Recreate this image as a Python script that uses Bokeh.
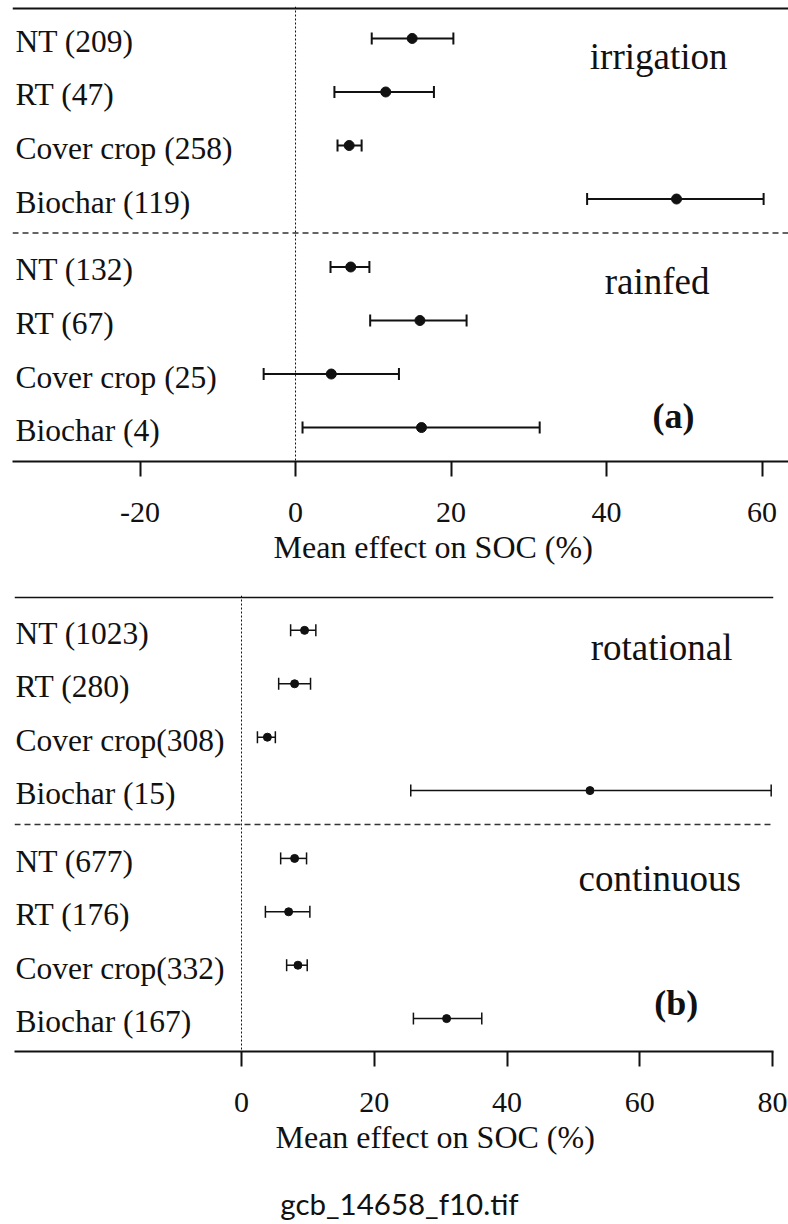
from bokeh.plotting import figure
from bokeh.models import ColumnDataSource, Whisker, TeeHead, Span, Range1d, FixedTicker, Title
from bokeh.layouts import column
from bokeh.core.properties import value
from bokeh.embed import file_html
from bokeh.resources import INLINE

# ---------------- data ----------------
a_groups = ["irrigation", "rainfed"]
a_labels_irr = ["NT (209)", "RT (47)", "Cover crop (258)", "Biochar (119)"]
a_mean_irr = [15.0, 11.6, 6.9, 49.0]
a_lo_irr = [9.8, 5.0, 5.4, 37.5]
a_hi_irr = [20.3, 17.8, 8.5, 60.2]
a_labels_rain = ["NT (132)", "RT (67)", "Cover crop (25)", "Biochar (4)"]
a_mean_rain = [7.1, 16.0, 4.6, 16.2]
a_lo_rain = [4.5, 9.6, -4.1, 0.9]
a_hi_rain = [9.5, 22.0, 13.3, 31.4]
a_ticks = [-20, 0, 20, 40, 60]

b_groups = ["rotational", "continuous"]
b_labels_rot = ["NT (1023)", "RT (280)", "Cover crop(308)", "Biochar (15)"]
b_mean_rot = [9.5, 8.0, 3.9, 52.5]
b_lo_rot = [7.4, 5.6, 2.4, 25.5]
b_hi_rot = [11.2, 10.4, 5.1, 79.8]
b_labels_cont = ["NT (677)", "RT (176)", "Cover crop(332)", "Biochar (167)"]
b_mean_cont = [8.0, 7.1, 8.5, 30.9]
b_lo_cont = [5.9, 3.6, 6.8, 25.9]
b_hi_cont = [9.8, 10.3, 9.9, 36.2]
b_ticks = [0, 20, 40, 60, 80]

xlabel = "Mean effect on SOC (%)"
filename = "gcb_14658_f10.tif"

SERIF = "Liberation Serif"
INK = "#111111"
GAP = 4.27  # row index where second group starts


def make_panel(groups, labels1, m1, l1, h1, labels2, m2, l2, h2, ticks, letter,
               xr, yr, height, top, bottom, left, right, lw, msize,
               title_dx, title_dy, letter_pos, label_offset):
    n1 = len(labels1)
    y1 = [float(i) for i in range(n1)]
    y2 = [GAP + i for i in range(len(labels2))]
    ys = y1 + y2
    src = ColumnDataSource(dict(y=ys, mean=m1 + m2, lo=l1 + l2, hi=h1 + h2,
                                lab=labels1 + labels2))

    p = figure(width=788, height=height, x_range=Range1d(*xr), y_range=Range1d(*yr),
               output_backend="svg", toolbar_location=None, y_axis_location=None,
               min_border_top=top, min_border_bottom=bottom,
               min_border_left=left, min_border_right=right)
    if "frame_align" in p.properties():
        p.frame_align = False
    p.outline_line_color = None
    p.xgrid.visible = False
    p.ygrid.visible = False
    p.background_fill_color = "white"
    p.border_fill_color = "white"

    # top line, zero line, group separator
    p.add_layout(Span(location=yr[1] + 2.0 / 53.6, dimension="width",
                      line_color=INK, line_width=lw))
    p.add_layout(Span(location=0, dimension="height", line_color=INK,
                      line_width=1, line_dash="2 2"))
    p.add_layout(Span(location=(y1[-1] + y2[0]) / 2.0, dimension="width",
                      line_color="#333333", line_width=1.5, line_dash="6 4"))

    # error bars and points
    head = dict(size=12, line_width=lw, line_color=INK)
    p.add_layout(Whisker(base="y", lower="lo", upper="hi", dimension="width",
                         source=src, line_width=lw, line_color=INK,
                         lower_head=TeeHead(**head), upper_head=TeeHead(**head)))
    p.scatter(x="mean", y="y", source=src, size=msize, color=INK)

    # category labels (left aligned inside the frame)
    p.text(x=[xr[0]] * len(ys), y=ys, text=labels1 + labels2, x_offset=15 - left,
           y_offset=3, text_font=value(SERIF), text_font_size="31.5px",
           text_align="left", text_baseline="middle", text_color=INK)

    # group titles
    gx = [title_dx[0], title_dx[1]]
    gy = [y1[0] + title_dy[0], y2[0] + title_dy[1]]
    p.text(x=gx, y=gy, text=groups, text_font=value(SERIF), text_font_size="37px",
           text_align="center", text_baseline="middle", text_color=INK)

    p.text(x=[letter_pos[0]], y=[y2[-1] + letter_pos[1]], text=[letter],
           text_font=value(SERIF), text_font_size="36px", text_font_style="bold",
           text_align="center", text_baseline="middle", text_color=INK)

    ax = p.xaxis[0]
    ax.ticker = FixedTicker(ticks=ticks)
    ax.major_label_overrides = {t: str(t) for t in ticks}
    ax.axis_line_width = 2
    ax.axis_line_color = INK
    ax.major_tick_line_width = 2
    ax.major_tick_line_color = INK
    ax.major_tick_out = 15
    ax.major_tick_in = 0
    ax.minor_tick_line_color = None
    ax.major_label_text_font = SERIF
    ax.major_label_text_font_size = "30px"
    ax.major_label_text_color = INK
    ax.major_label_standoff = 26

    p.add_layout(Title(text=xlabel, align="left", offset=label_offset,
                       text_font=SERIF, text_font_size="32px",
                       text_font_style="normal", text_color=INK, standoff=4), "below")
    return p


pa = make_panel(a_groups, a_labels_irr, a_mean_irr, a_lo_irr, a_hi_irr,
                a_labels_rain, a_mean_rain, a_lo_rain, a_hi_rain, a_ticks, "(a)",
                xr=(-36.4, 63.4), yr=(7.27 + 34 / 53.6, -30 / 53.6 - 2 / 53.6),
                height=575, top=6, bottom=114, left=12, right=0, lw=2, msize=10,
                title_dx=(46.7, 46.5), title_dy=(0.33, 0.28), letter_pos=(48.6, -0.22),
                label_offset=261)

pb = make_panel(b_groups, b_labels_rot, b_mean_rot, b_lo_rot, b_hi_rot,
                b_labels_cont, b_mean_cont, b_lo_cont, b_hi_cont, b_ticks, "(b)",
                xr=(-34.2, 80.15), yr=(7.27 + 33 / 53.6, -33 / 53.6 - 2 / 53.6),
                height=590, top=20, bottom=114, left=14, right=15, lw=1.5, msize=8,
                title_dx=(63.3, 63.0), title_dy=(0.33, 0.38), letter_pos=(65.5, -0.3),
                label_offset=261)

# caption strip with the file name
pc = figure(width=788, height=59, x_range=Range1d(0, 788), y_range=Range1d(0, 59),
            output_backend="svg", toolbar_location=None,
            x_axis_location=None, y_axis_location=None,
            min_border_top=0, min_border_bottom=0, min_border_left=0, min_border_right=0)
if "frame_align" in pc.properties():
    pc.frame_align = False
pc.outline_line_color = None
pc.xgrid.visible = False
pc.ygrid.visible = False
pc.text(x=[399], y=[21], text=[filename], text_font=value("Lato"),
        text_font_size="29.5px", text_align="center", text_baseline="middle",
        text_color=INK)

layout = column(pa, pb, pc, spacing=0)
open("out.html", "w").write(file_html(layout, INLINE))
